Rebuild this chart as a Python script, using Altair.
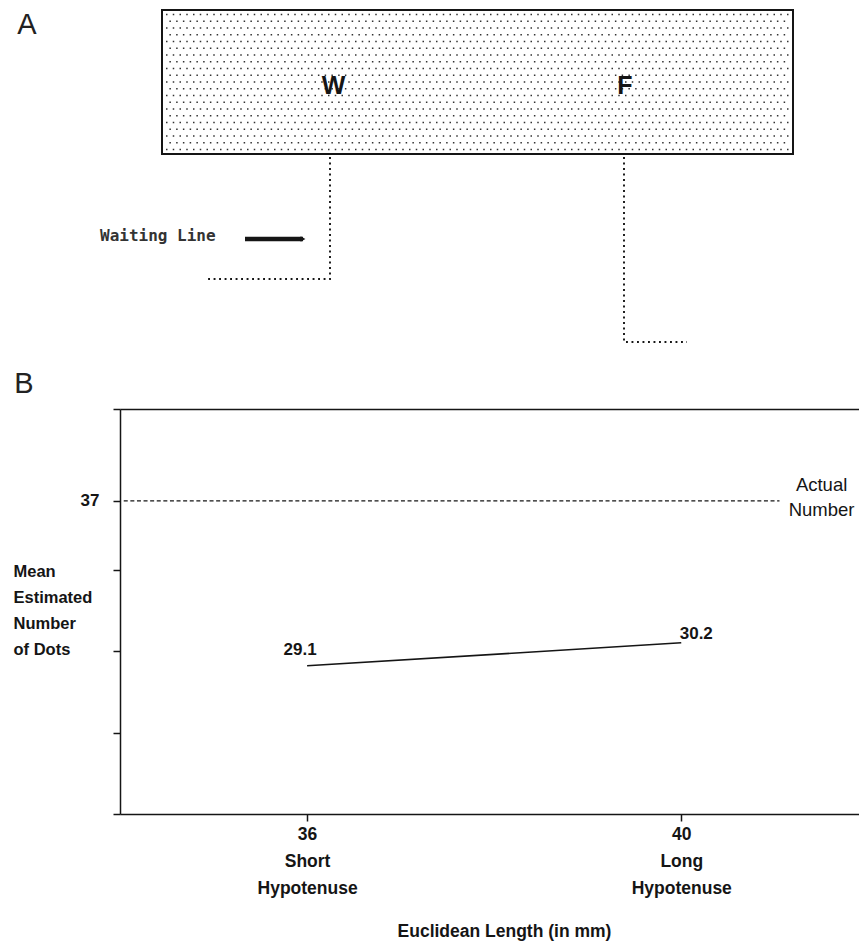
import altair as alt
import pandas as pd

# ---------------- Panel B values ----------------
lengths_mm = [36, 40]                      # Euclidean length of the hypotenuse (mm)
hypotenuse = ["Short", "Long"]             # condition names
mean_estimates = [29.1, 30.2]              # mean estimated number of dots
actual_number = 37                         # actual number of dots
y_tick_values = [41.4, 37, 33.7, 29.8, 25.9, 22]
x_title = "Euclidean Length (in mm)"
y_title = ["Mean", "Estimated", "Number", "of Dots"]
actual_label = ["Actual", "Number"]

# ---------------- Panel A diagram (its own diagram units) ----------------
box_x = [162, 793]
box_y = [10, 154]
letters = ["W", "F"]
letter_x = [333.5, 625]
letter_y = [85.5, 85.5]
path_id = ["W", "W", "W", "F", "F", "F"]
path_seq = [0, 1, 2, 0, 1, 2]
path_x = [330, 330, 206, 624, 624, 687]
path_y = [157, 279, 279, 157, 342, 342]
wait_label = ["Waiting Line"]
wait_x = [100]
wait_y = [241]
arrow_x = [245, 303]
arrow_y = [239, 239]
panel_labels = ["A", "B"]
panel_label_x = [27, 24]
panel_label_y = [34, 393]

FONT = "Liberation Sans"
INK = "#151515"

# ================= Panel B =================
df_b = pd.DataFrame({"length": lengths_mm, "estimate": mean_estimates, "condition": hypotenuse})
ref_df = pd.DataFrame({"value": [actual_number]})

x_scale = alt.Scale(domain=[34, 41.9], nice=False, zero=False)
y_scale = alt.Scale(domain=[22, 41.4], nice=False, zero=False)

label_expr = " : ".join(
    f"datum.value == {v} ? ['{v}', '{c}', 'Hypotenuse']" for v, c in zip(lengths_mm, hypotenuse)
) + " : ''"

x_axis = alt.Axis(
    orient="bottom", values=lengths_mm, labelExpr=label_expr,
    labelFont=FONT, labelFontSize=17.5, labelFontWeight="bold", labelColor=INK, labelLineHeight=27,
    labelPadding=4, labelBaseline="top", labelAngle=0, labelFlush=False, labelOverlap=False,
    tickSize=7, tickWidth=1.5, tickColor=INK, domainColor=INK, domainWidth=1.5, grid=False,
    title=x_title, titleFont=FONT, titleFontSize=17.5, titleFontWeight="bold", titleColor=INK,
    titleX=384, titleY=117, titleAlign="center", titleBaseline="middle",
)
y_axis = alt.Axis(
    orient="left", values=y_tick_values,
    labelExpr=f"datum.value == {actual_number} ? '{actual_number}' : ''",
    labelFont=FONT, labelFontSize=17, labelFontWeight="bold", labelColor=INK, labelPadding=14,
    labelFlush=False, labelOverlap=False,
    tickSize=7, tickWidth=1.5, tickColor=INK, domainColor=INK, domainWidth=1.5, grid=False,
    title=y_title, titleFont=FONT, titleFontSize=16.5, titleFontWeight="bold", titleColor=INK,
    titleAngle=0, titleAlign="left", titleBaseline="top", titleX=-107, titleY=154, titleLineHeight=26,
)
top_axis = alt.Axis(orient="top", labels=False, ticks=False, domain=True,
                    domainColor=INK, domainWidth=1.5, grid=False, title=None)

line = alt.Chart(df_b).mark_line(color=INK, strokeWidth=1.6).encode(
    x=alt.X("length:Q", scale=x_scale, axis=x_axis),
    y=alt.Y("estimate:Q", scale=y_scale, axis=y_axis),
)

ref_rule = alt.Chart(ref_df).mark_rule(color=INK, strokeWidth=1.1, strokeDash=[4, 2.6]).encode(
    x=alt.XDatum(34.04, type="quantitative", axis=None),
    x2=alt.X2Datum(41.05),
    y=alt.Y("value:Q", scale=y_scale, axis=None),
)

ref_text = alt.Chart(ref_df).mark_text(
    text=actual_label, font=FONT, fontSize=18.5, color=INK, align="center",
    baseline="middle", lineHeight=25, dy=-16,
).encode(
    x=alt.XDatum(41.5, type="quantitative", axis=None),
    y=alt.Y("value:Q", scale=y_scale, axis=None),
)

lab_short = alt.Chart(df_b).transform_filter(alt.datum.condition == "Short").mark_text(
    font=FONT, fontSize=17, fontWeight="bold", color=INK, align="center", baseline="middle",
    dx=-7, dy=-16,
).encode(
    x=alt.X("length:Q", scale=x_scale, axis=top_axis),
    y=alt.Y("estimate:Q", scale=y_scale, axis=None),
    text=alt.Text("estimate:Q", format=".1f"),
)
lab_long = alt.Chart(df_b).transform_filter(alt.datum.condition == "Long").mark_text(
    font=FONT, fontSize=17, fontWeight="bold", color=INK, align="center", baseline="middle",
    dx=15, dy=-9,
).encode(
    x=alt.X("length:Q", scale=x_scale, axis=None),
    y=alt.Y("estimate:Q", scale=y_scale, axis=None),
    text=alt.Text("estimate:Q", format=".1f"),
)

panel_b = alt.layer(line, ref_rule, lab_short, lab_long, ref_text).resolve_axis(
    x="independent", y="independent")

# ================= Panel A =================
AX = alt.Scale(domain=[120, 859], nice=False, zero=False)
AY = alt.Scale(domain=[409, 814], nice=False, zero=False, reverse=True)


def ax(f):
    return alt.X(f, type="quantitative", scale=AX, axis=None)


def ay(f):
    return alt.Y(f, type="quantitative", scale=AY, axis=None)


box_df = pd.DataFrame({"x0": [box_x[0]], "x1": [box_x[1]], "y0": [box_y[0]], "y1": [box_y[1]]})
box = alt.Chart(box_df).mark_rect(fill="white", stroke=INK, strokeWidth=2).encode(
    x=ax("x0"), x2="x1", y=ay("y0"), y2="y1")

# stipple texture of the box (decorative, staggered rows of dots)
tex_rows = []
yy = box_y[0] + 4.5
i = 0
while yy < box_y[1] - 3:
    tex_rows.append({"xs": box_x[0] + 4 + (3.4 if i % 2 else 0), "xe": box_x[1] - 3, "y": yy})
    yy += 6.75
    i += 1
texture = alt.Chart(pd.DataFrame(tex_rows)).mark_rule(
    color="#333333", strokeWidth=1.5, strokeDash=[1.5, 5.25]).encode(
    x=ax("xs"), x2="xe", y=ay("y"))

letters_df = pd.DataFrame({"t": letters, "x": letter_x, "y": letter_y})
letter_marks = alt.Chart(letters_df).mark_text(
    font="Liberation Sans", fontWeight="bold", fontSize=25, color=INK,
    align="center", baseline="middle").encode(x=ax("x"), y=ay("y"), text="t:N")

paths_df = pd.DataFrame({"path": path_id, "seq": path_seq, "x": path_x, "y": path_y})
paths = alt.Chart(paths_df).mark_line(color=INK, strokeWidth=1.9, strokeDash=[1.9, 3.6]).encode(
    x=ax("x"), y=ay("y"), detail="path:N", order="seq:O")

wait_df = pd.DataFrame({"t": wait_label, "x": wait_x, "y": wait_y})
wait_text = alt.Chart(wait_df).mark_text(
    font="DejaVu Sans Mono", fontSize=16, fontWeight="bold", color="#333333", align="left",
    baseline="alphabetic").encode(x=ax("x"), y=ay("y"), text="t:N")

arrow_df = pd.DataFrame({"x0": [arrow_x[0]], "x1": [arrow_x[1]], "y": [arrow_y[0]]})
arrow_shaft = alt.Chart(arrow_df).mark_rule(color=INK, strokeWidth=4.5).encode(
    x=ax("x0"), x2="x1", y=ay("y"))
arrow_head = alt.Chart(arrow_df).mark_point(
    shape="triangle-right", filled=True, color=INK, size=30, opacity=1).encode(
    x=ax("x1"), y=ay("y"))

pl_df = pd.DataFrame({"t": panel_labels, "x": panel_label_x, "y": panel_label_y})
panel_letters = alt.Chart(pl_df).mark_text(
    font="Liberation Sans", fontSize=29, color="#222222", align="center",
    baseline="alphabetic").encode(x=ax("x"), y=ay("y"), text="t:N")

panel_a = alt.layer(box, texture, letter_marks, paths, wait_text, arrow_shaft, arrow_head, panel_letters)

chart = alt.layer(panel_b, panel_a).resolve_scale(
    x="independent", y="independent"
).properties(
    width=739, height=405,
    autosize=alt.AutoSizeParams(type="none"),
    padding={"left": 120, "top": 409, "right": 0, "bottom": 127},
    background="white",
).configure_view(stroke=None)

chart.save("out.html", embed_options={"renderer": "svg", "actions": False})
